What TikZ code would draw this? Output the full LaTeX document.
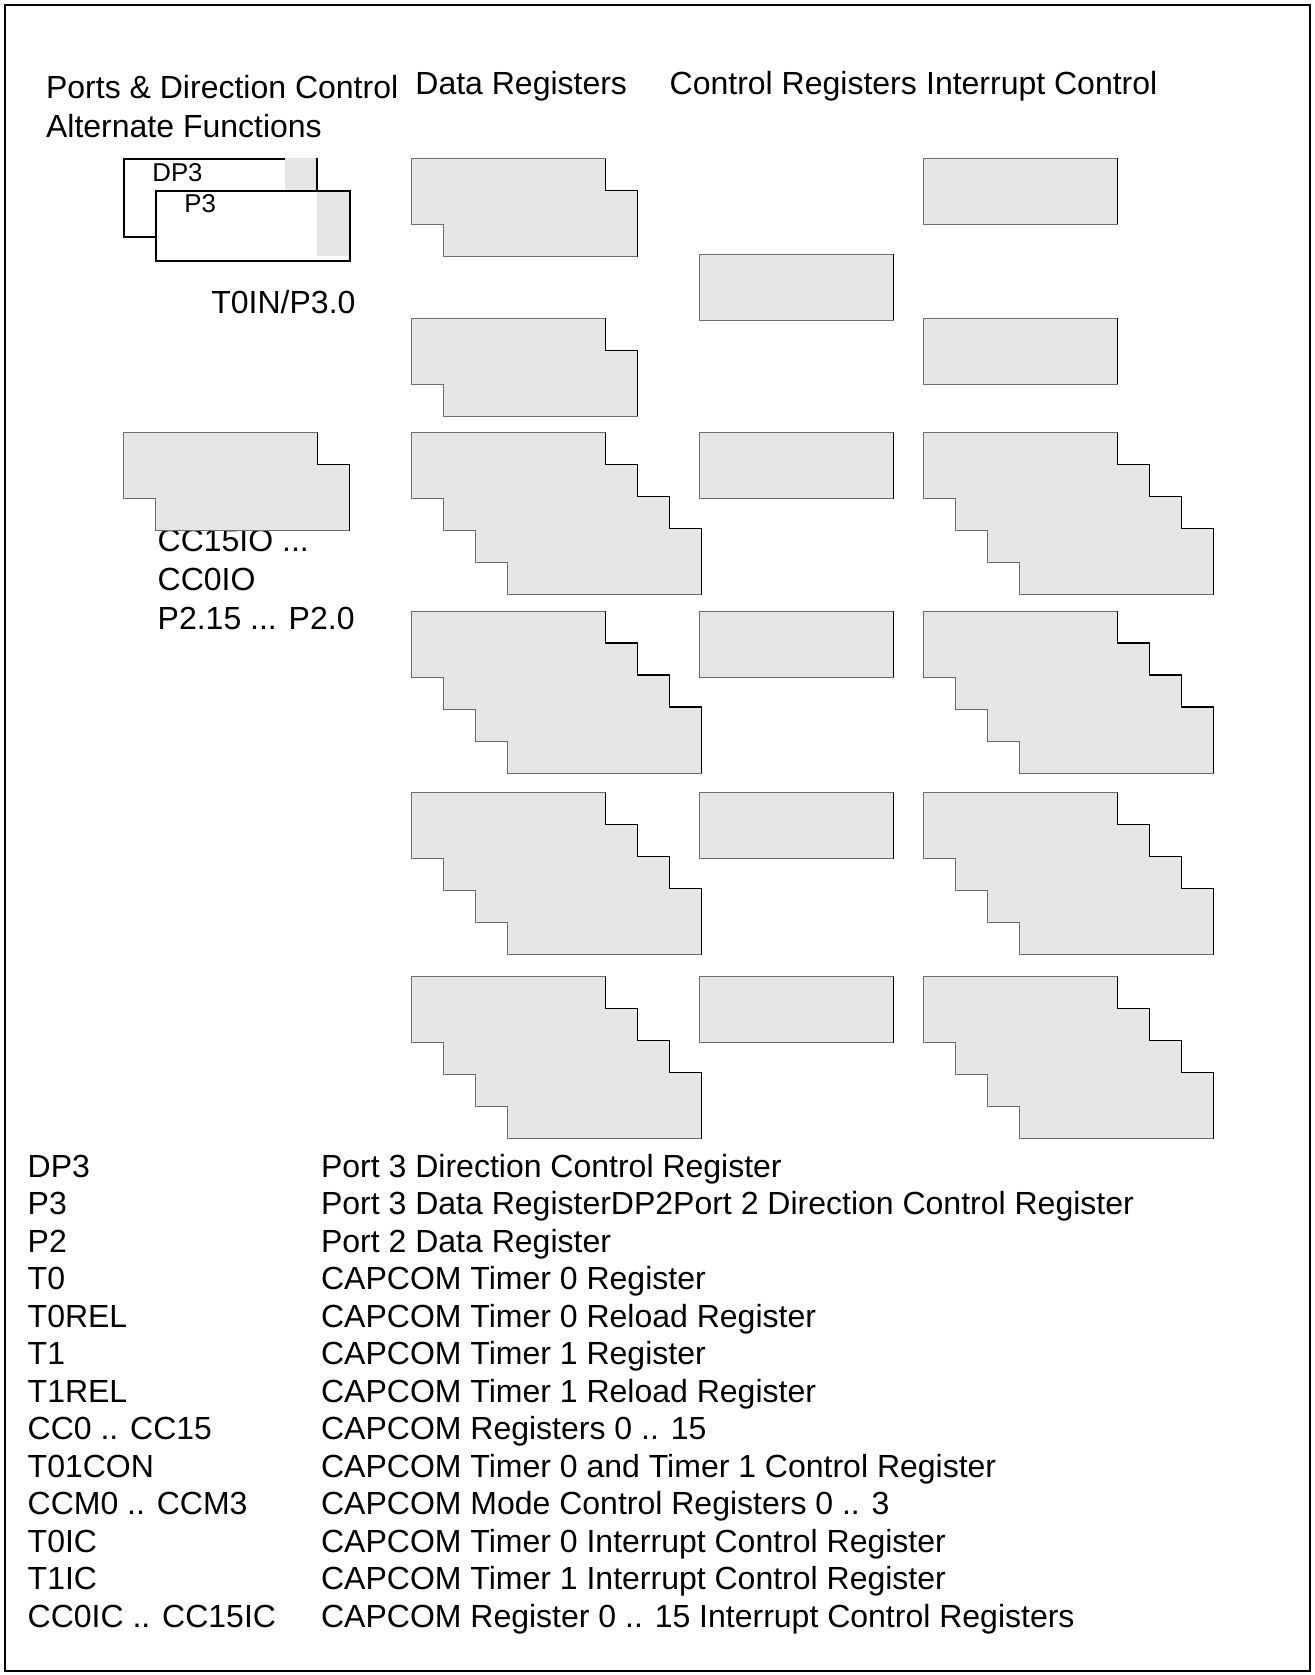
\documentclass[tikz,border=0pt]{standalone}
\usepackage{fontspec}
\setmainfont{Liberation Sans}
\definecolor{RegFill}{HTML}{E5E5E5}
\definecolor{RegLine}{HTML}{6E6E6E}

\begin{document}
\begin{tikzpicture}[
    x=0.5pt, y=-0.5pt,
    reg/.style={fill=RegFill, draw=RegLine, line width=0.5pt},
    regedge/.style={draw=black, line width=0.6pt},
    portbox/.style={fill=white, draw=black, line width=1pt},
    txt/.style={anchor=base west, inner sep=0pt, font=\fontsize{16}{19}\selectfont},
    smalltxt/.style={anchor=base west, inner sep=0pt, font=\fontsize{12.9}{15}\selectfont},
    regone/.pic={
      \draw[reg] (0,0) rectangle (194,66);
      \draw[regedge] (194,0) -- (194,66);
    },
    regtwo/.pic={
      \draw[reg] (0,0) -| (194,32) -| (226,98) -| (32,66) -| (0,0) -- cycle;
      \draw[regedge] (194,0) -- (194,32) -- (226,32) -- (226,98);
    },
    regfour/.pic={
      \draw[reg] (0,0) -| (194,32) -| (226,64) -| (258,96) -| (290,162)
        -| (96,130) -| (64,98) -| (32,66) -| (0,0) -- cycle;
      \draw[regedge] (194,0) -- (194,32) -- (226,32) -- (226,64)
        -- (258,64) -- (258,96) -- (290,96) -- (290,162);
    }
  ]
  \useasboundingbox (0,0) rectangle (1314,1675);
  \draw[line width=1.2pt] (5,5) rectangle (1310,1671);

  % column headers
  \node[txt] (hdrports) at (45.7,98.3) {Ports \& Direction Control};
  \node[txt] (hdralt) at (45.7,137.3) {Alternate Functions};
  \node[txt] (hdrdata) at (415,95) {Data Registers};
  \node[txt] (hdrctrl) at (669.3,95) {Control Registers};
  \node[txt] (hdrint) at (925.7,95) {Interrupt Control};

  % port 3
  \draw[portbox] (124,159) rectangle (317,237);
  \fill[RegFill] (285,157.5) rectangle (316,191);
  \draw[portbox] (156,191) rectangle (350,261);
  \fill[RegFill] (317,192) rectangle (348.5,256);
  \node[smalltxt] (lbldp3) at (152,181) {DP3};
  \node[smalltxt] (lblp3) at (184,212) {P3};
  \node[txt] (lbltin) at (211,313) {T0IN/P3.0};

  % port 2
  \node[txt] (lblcc15) at (157.3,551) {CC15IO ...};
  \node[txt] (lblcc0) at (157.3,590) {CC0IO};
  \node[txt] (lblp2) at (157.3,629) {P2.15 ... P2.0};
  \pic at (123.7,432.7) {regtwo};

  % data registers
  \pic at (411.6,158.7) {regtwo};
  \pic at (411.6,318.4) {regtwo};
  \foreach \y in {432.7,611,792.7,976.7}
    \pic at (411.6,\y) {regfour};

  % control registers
  \foreach \y in {254.3,432.7,611,792.7,976.7}
    \pic at (699.6,\y) {regone};

  % interrupt control
  \pic at (923.4,158.3) {regone};
  \pic at (923.4,318.3) {regone};
  \foreach \y in {432.7,611,792.7,976.7}
    \pic at (923.4,\y) {regfour};

  % legend
  \foreach \k/\d [count=\i from 0] in {
      DP3/Port 3 Direction Control Register,
      P3/Port 3 Data RegisterDP2Port 2 Direction Control Register,
      P2/Port 2 Data Register,
      T0/CAPCOM Timer 0 Register,
      T0REL/CAPCOM Timer 0 Reload Register,
      T1/CAPCOM Timer 1 Register,
      T1REL/CAPCOM Timer 1 Reload Register,
      CC0 .. CC15/CAPCOM Registers 0 .. 15,
      T01CON/CAPCOM Timer 0 and Timer 1 Control Register,
      CCM0 .. CCM3/CAPCOM Mode Control Registers 0 .. 3,
      T0IC/CAPCOM Timer 0 Interrupt Control Register,
      T1IC/CAPCOM Timer 1 Interrupt Control Register,
      CC0IC .. CC15IC/CAPCOM Register 0 .. 15 Interrupt Control Registers} {
    \node[txt] (key\i) at (27.3,{1177.3+37.5*\i}) {\k};
    \node[txt] (desc\i) at (320.7,{1177.3+37.5*\i}) {\d};
  }
\end{tikzpicture}
\end{document}
